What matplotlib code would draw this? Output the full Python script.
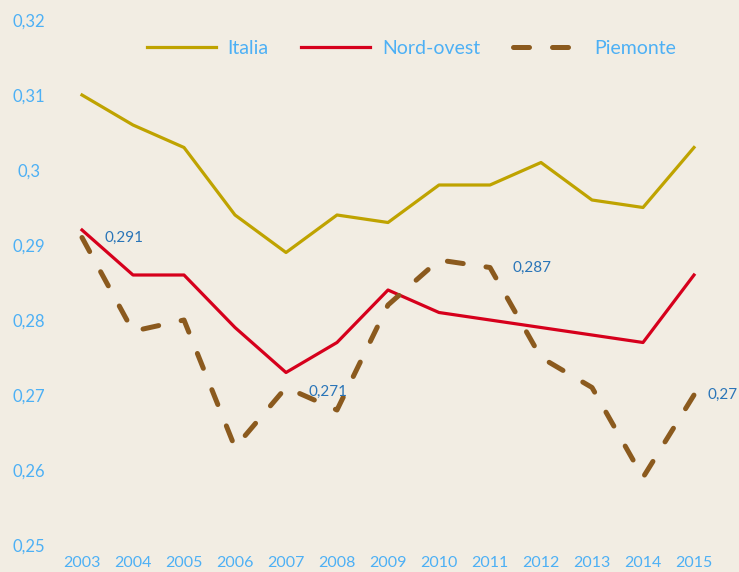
import matplotlib
matplotlib.use('Agg')
import matplotlib.pyplot as plt

######################################################################

years = [2003, 2004, 2005, 2006, 2007, 2008, 2009, 2010, 2011, 2012, 2013, 2014, 2015]

italia = [0.310, 0.306, 0.303, 0.294, 0.289, 0.294, 0.293, 0.298, 0.298, 0.301, 0.296, 0.295, 0.303]
nord_ovest = [0.292, 0.286, 0.286, 0.279, 0.273, 0.277, 0.284, 0.281, 0.280, 0.279, 0.278, 0.277, 0.286]
piemonte = [0.291, 0.2785, 0.280, 0.263, 0.271, 0.268, 0.282, 0.288, 0.287, 0.275, 0.271, 0.259, 0.270]

y_ticks = [0.25, 0.26, 0.27, 0.28, 0.29, 0.30, 0.31, 0.32]
y_tick_labels = ['0,25', '0,26', '0,27', '0,28', '0,29', '0,3', '0,31', '0,32']

# data labels on Piemonte: year, value, text
label_years = [2003, 2007, 2011, 2015]
label_values = [0.291, 0.271, 0.287, 0.270]
label_texts = ['0,291', '0,271', '0,287', '0,27']

######################################################################

bg = '#f2ede3'
tick_color = '#4db0f5'
label_color = '#2a75b8'

plt.rcParams['font.family'] = ['Lato', 'DejaVu Sans']

fig = plt.figure(figsize = (7.39, 5.72), dpi = 100, facecolor = bg)
ax = fig.add_axes([56.5 / 739, 1 - 545 / 572, 663 / 739, 525 / 572])
ax.set_facecolor(bg)

ax.plot(years, italia, color = '#bfa300', lw = 2.3, label = 'Italia')
ax.plot(years, nord_ovest, color = '#d6001c', lw = 2.3, label = 'Nord-ovest')
pm, = ax.plot(years, piemonte, color = '#8b5a1e', lw = 3.6, label = 'Piemonte',
              dashes = (3.2, 4.6))
pm.set_dash_capstyle('round')

offsets = [(16, 0), (16, -3), (16, 0), (10, 0)]
for x, y, t, off in zip(label_years, label_values, label_texts, offsets):
    ax.annotate(t, (x, y), xytext = off, textcoords = 'offset points',
                color = label_color, fontsize = 11, va = 'center', ha = 'left',
                annotation_clip = False)

ax.set_xlim(2002.5, 2015.5)
ax.set_ylim(0.25, 0.32)
ax.set_xticks(years)
ax.set_xticklabels([str(y) for y in years])
ax.set_yticks(y_ticks)
ax.set_yticklabels(y_tick_labels)
ax.tick_params(length = 0, colors = tick_color, labelsize = 12)
ax.tick_params(axis = 'x', pad = 8, labelsize = 11.5)
for lab in ax.get_yticklabels():
    lab.set_horizontalalignment('center')
ax.tick_params(axis = 'y', pad = 20)

for s in ax.spines.values():
    s.set_visible(False)

leg = ax.legend(loc = 'upper center', bbox_to_anchor = (0.535, 0.995), ncol = 3,
                frameon = False, fontsize = 14, handlelength = 3.55,
                columnspacing = 1.7, handletextpad = 0.6, labelcolor = tick_color)

fig.savefig('out.png', dpi = 100, facecolor = bg)
